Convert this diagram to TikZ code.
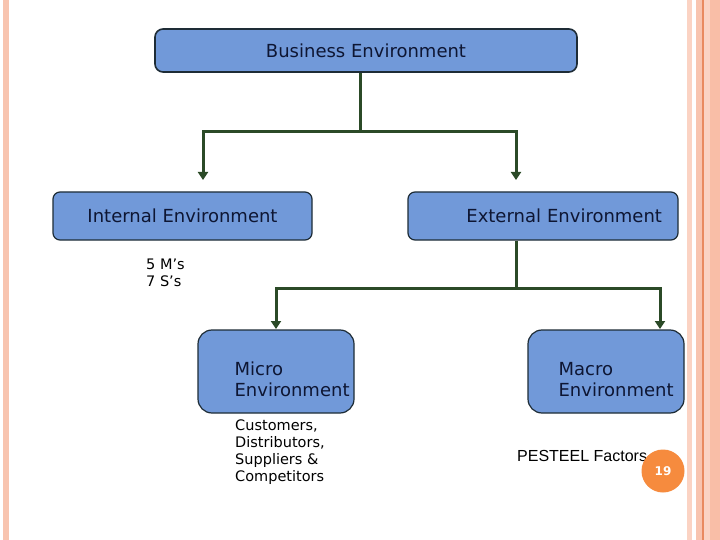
\documentclass[tikz,border=0pt]{standalone}
\usepackage{fontspec}
\setmainfont{DejaVu Sans}
\newfontfamily\arialfont{Liberation Sans}
\usetikzlibrary{arrows.meta,positioning}
\definecolor{boxblue}{HTML}{7199D9}
\definecolor{boxline}{HTML}{1E2C36}
\definecolor{linkgreen}{HTML}{2B4A27}
\definecolor{textnavy}{HTML}{0E1633}
\definecolor{stripepale}{HTML}{FBD3C3}
\definecolor{stripemid}{HTML}{F8C4AF}
\definecolor{stripeline}{HTML}{E98A5F}
\definecolor{stripedeep}{HTML}{F9BEA7}
\definecolor{pageorange}{HTML}{F68B3E}

\begin{document}
\begin{tikzpicture}[
    x=1pt, y=-1pt,
    envbox/.style={
      draw=boxline, line width=1.2pt, fill=boxblue, rounded corners=#1,
      font=\fontsize{18}{21}\selectfont, text=textnavy, inner sep=0pt
    },
    envbox/.default=7pt,
    boxtext/.style={font=\fontsize{18}{21}\selectfont, text=textnavy, align=left, inner sep=0pt},
    note/.style={font=\fontsize{14.5}{17}\selectfont, align=left, anchor=base west, inner sep=0pt},
    link/.style={draw=linkgreen, line width=3pt},
    arr/.style={link, -{Triangle[length=8pt,width=10pt]}},
  ]
  \useasboundingbox (0,0) rectangle (720,540);
  \fill[white] (0,0) rectangle (720,540);

  % =================== Slide border ===================
  \fill[stripemid] (3,0) rectangle (9,540);
  \fill[stripepale] (687,0) rectangle (692,540);
  \fill[stripemid] (696,0) rectangle (702,540);
  \fill[stripeline] (702,0) rectangle (703.5,540);
  \fill[stripepale] (703.5,0) rectangle (710,540);
  \fill[stripedeep] (710,0) rectangle (720,540);

  % =================== Top level ===================
  \node[envbox=8pt, line width=1.6pt, minimum width=422pt, minimum height=43pt] (biz) at (366,50.5) {Business Environment};

  \node[envbox, minimum width=259pt, minimum height=48pt] (int) at (182.5,216) {Internal Environment};
  \node[envbox, minimum width=270pt, minimum height=48pt, text width=238pt, align=right] (ext) at (543,216) {External Environment};

  \coordinate (j1) at (360,132);
  \coordinate (intin) at (203,180);
  \coordinate (extin) at (516,180);
  \draw[link] (biz.south -| j1) -- (j1);
  \draw[arr] (j1) -| (intin);
  \draw[arr] (j1) -| (extin);

  % notes under internal (base = last line)
  \node[note] (msnote) at (146,286) {5 M’s\\7 S’s};

  % =================== External split ===================
  \node[envbox=14pt, minimum width=156pt, minimum height=83pt] (micro) at (276,371.5) {};
  \node[boxtext, anchor=west] (microtext) at ([xshift=37pt,yshift=-8pt]micro.west) {Micro\\Environment};

  \node[envbox=14pt, minimum width=156pt, minimum height=83pt] (macro) at (606,371.5) {};
  \node[boxtext, anchor=west] (macrotext) at ([xshift=31pt,yshift=-8pt]macro.west) {Macro\\Environment};

  \coordinate (j2) at (516,288);
  \coordinate (microin) at (276,329);
  \coordinate (macroin) at (660,329);
  \draw[link] (ext.south -| j2) -- (j2);
  \draw[arr] (j2) -| (microin);
  \draw[arr] (j2) -| (macroin);

  % notes under micro / macro
  \node[note] (micronote) at (235,481) {Customers,\\Distributors,\\Suppliers \&\\Competitors};
  \node[note, font=\arialfont\fontsize{16}{18}\selectfont] (macronote) at (517,461) {PESTEEL Factors};

  % =================== Page number ===================
  \node[circle, fill=pageorange, minimum size=43pt, inner sep=0pt, text=white,
        font=\bfseries\fontsize{12}{14}\selectfont] (pagenum) at (663,471) {19};

\end{tikzpicture}
\end{document}
